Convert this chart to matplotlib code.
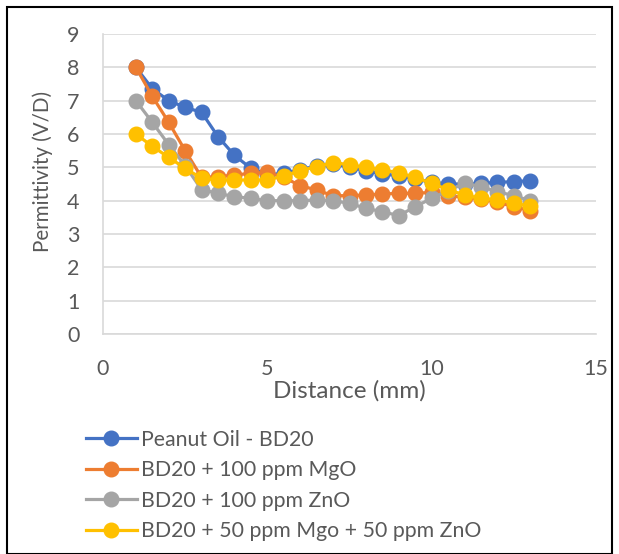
import matplotlib
matplotlib.use("Agg")
import matplotlib.pyplot as plt
from matplotlib.patches import Rectangle

distance = [1, 1.5, 2, 2.5, 3, 3.5, 4, 4.5, 5, 5.5, 6, 6.5, 7, 7.5, 8, 8.5, 9, 9.5, 10, 10.5, 11, 11.5, 12, 12.5, 13]

peanut_bd20 = [8.0, 7.36, 7.0, 6.8, 6.65, 5.92, 5.36, 4.97, 4.78, 4.82, 4.92, 5.05, 5.1, 5.0, 4.9, 4.8, 4.75, 4.65, 4.55, 4.5, 4.5, 4.52, 4.55, 4.57, 4.6]
mgo_100 = [8.0, 7.13, 6.35, 5.5, 4.7, 4.72, 4.77, 4.82, 4.85, 4.7, 4.45, 4.32, 4.15, 4.15, 4.17, 4.2, 4.22, 4.22, 4.25, 4.15, 4.1, 4.05, 3.95, 3.82, 3.7]
zno_100 = [7.0, 6.35, 5.68, 5.05, 4.33, 4.22, 4.12, 4.07, 4.0, 4.0, 4.0, 4.02, 4.0, 3.92, 3.77, 3.67, 3.55, 3.82, 4.07, 4.3, 4.52, 4.42, 4.27, 4.15, 4.0]
mgo_zno_50 = [6.0, 5.63, 5.3, 4.97, 4.67, 4.62, 4.62, 4.62, 4.62, 4.74, 4.9, 5.02, 5.14, 5.08, 5.0, 4.92, 4.84, 4.7, 4.52, 4.33, 4.17, 4.07, 4.02, 3.93, 3.83]

labels = ["Peanut Oil - BD20", "BD20 + 100 ppm MgO", "BD20 + 100 ppm ZnO", "BD20 + 50 ppm Mgo + 50 ppm ZnO"]
colors = ["#4472C4", "#ED7D31", "#A5A5A5", "#FFC000"]
x_ticks = [0, 5, 10, 15]
y_ticks = [0, 1, 2, 3, 4, 5, 6, 7, 8, 9]

plt.rcParams['font.family'] = ['Lato', 'DejaVu Sans']
txt = "#595959"

fig = plt.figure(figsize=(6.19, 5.54), dpi=100)
ax = fig.add_axes([103/619, 1-334/554, (596-103)/619, (334-34)/554])

for ys, lab, c in zip([peanut_bd20, mgo_100, zno_100, mgo_zno_50], labels, colors):
    ax.plot(distance, ys, color=c, lw=2.3, marker='o', markersize=10.5, label=lab)

ax.set_xlim(0, 15)
ax.set_ylim(0, 9)
ax.set_xticks(x_ticks)
ax.set_yticks(y_ticks)
ax.grid(axis='y', color='#d9d9d9', lw=1.2)
ax.set_axisbelow(True)
for s in ['top', 'right']:
    ax.spines[s].set_visible(False)
for s in ['left', 'bottom']:
    ax.spines[s].set_color('#d9d9d9')
    ax.spines[s].set_linewidth(1.2)
ax.tick_params(length=0, labelsize=15.5, colors=txt)
ax.tick_params(axis='y', pad=17)
ax.tick_params(axis='x', pad=18)
ax.set_xlabel("Distance (mm)", fontsize=17.5, color=txt, labelpad=1)
ax.set_ylabel("Permittivity (V/D)", fontsize=14.8, color=txt)
ax.yaxis.set_label_coords(-0.101, 0.543)

fig.legend(loc='upper left', bbox_to_anchor=(77/619, 1-421/554), frameon=False,
           fontsize=15.3, labelcolor=txt, handlelength=2.4, handletextpad=0.2,
           labelspacing=0.5, borderaxespad=0)

fig.patches.append(Rectangle((7/619, 0), (612-7)/619, 1-7/554, transform=fig.transFigure,
                             fill=False, edgecolor='black', lw=1.5))

fig.savefig("out.png", dpi=100)
